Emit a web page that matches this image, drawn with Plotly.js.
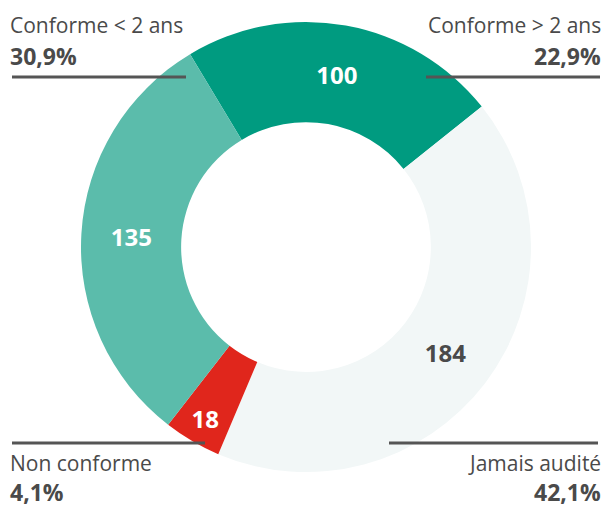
<!DOCTYPE html>
<html>
<head>
<meta charset="utf-8">
<script src="https://cdn.plot.ly/plotly-3.0.1.min.js"></script>
<style>html,body{margin:0;padding:0;background:#fff;}#chart{width:604px;height:507px;}</style>
</head>
<body>
<div id="chart"></div>
<script>
const categories = ["Conforme > 2 ans", "Jamais audité", "Non conforme", "Conforme < 2 ans"];
const values = [100, 184, 18, 135];
const percentLabels = ["22,9%", "42,1%", "4,1%", "30,9%"];
const sliceColors = ["#009B80", "#F2F7F7", "#E0261C", "#5BBCAB"];
const sliceTextColors = ["#ffffff", "#4a4a4a", "#ffffff", "#ffffff"];

const FONT = "Open Sans, Lato, sans-serif";
const TXT = "#4a4a4a";

const place = {
  "Conforme > 2 ans": {x: 601, xa: "right", yName: 25, yPct: 56, lx0: 426, lx1: 600, ly: 77},
  "Jamais audité":    {x: 601, xa: "right", yName: 463, yPct: 492, lx0: 389, lx1: 598, ly: 443},
  "Non conforme":     {x: 10,  xa: "left",  yName: 463, yPct: 492, lx0: 12, lx1: 205, ly: 443},
  "Conforme < 2 ans": {x: 10,  xa: "left",  yName: 25, yPct: 56, lx0: 12, lx1: 186, ly: 77}
};
const W = 604, H = 507;
const annotations = [];
const shapes = [];
categories.forEach((c, i) => {
  const p = place[c];
  annotations.push({xref: "paper", yref: "paper", x: p.x / W, y: 1 - p.yName / H, xanchor: p.xa, yanchor: "middle",
    borderpad: 0, borderwidth: 0,
    text: c, showarrow: false, font: {family: FONT, size: 21, color: TXT}});
  annotations.push({xref: "paper", yref: "paper", x: p.x / W, y: 1 - p.yPct / H, xanchor: p.xa, yanchor: "middle",
    borderpad: 0, borderwidth: 0,
    text: "<b>" + percentLabels[i] + "</b>", showarrow: false, font: {family: FONT, size: 23, color: TXT}});
  shapes.push({type: "line", xref: "paper", yref: "paper", layer: "above",
    x0: p.lx0 / W, x1: p.lx1 / W, y0: 1 - p.ly / H, y1: 1 - p.ly / H,
    line: {color: "#555555", width: 3}});
});

const trace = {
  type: "pie",
  labels: categories,
  values: values,
  sort: false,
  direction: "clockwise",
  rotation: -31,
  hole: 0.555,
  marker: {colors: sliceColors, line: {width: 0}},
  textinfo: "value",
  textposition: "inside",
  insidetextorientation: "horizontal",
  textfont: {family: FONT, size: 24, color: sliceTextColors, weight: "bold"},
  showlegend: false,
  hoverinfo: "label+value+percent",
  domain: {x: [(306 - 225) / W, (306 + 225) / W], y: [(H - 247 - 225) / H, (H - 247 + 225) / H]}
};

Plotly.newPlot("chart", [trace], {
  width: W, height: H,
  margin: {l: 0, r: 0, t: 0, b: 0},
  paper_bgcolor: "#ffffff",
  showlegend: false,
  uniformtext: {mode: "show", minsize: 24},
  annotations: annotations,
  shapes: shapes
}, {displayModeBar: false, staticPlot: true});
</script>
</body>
</html>
